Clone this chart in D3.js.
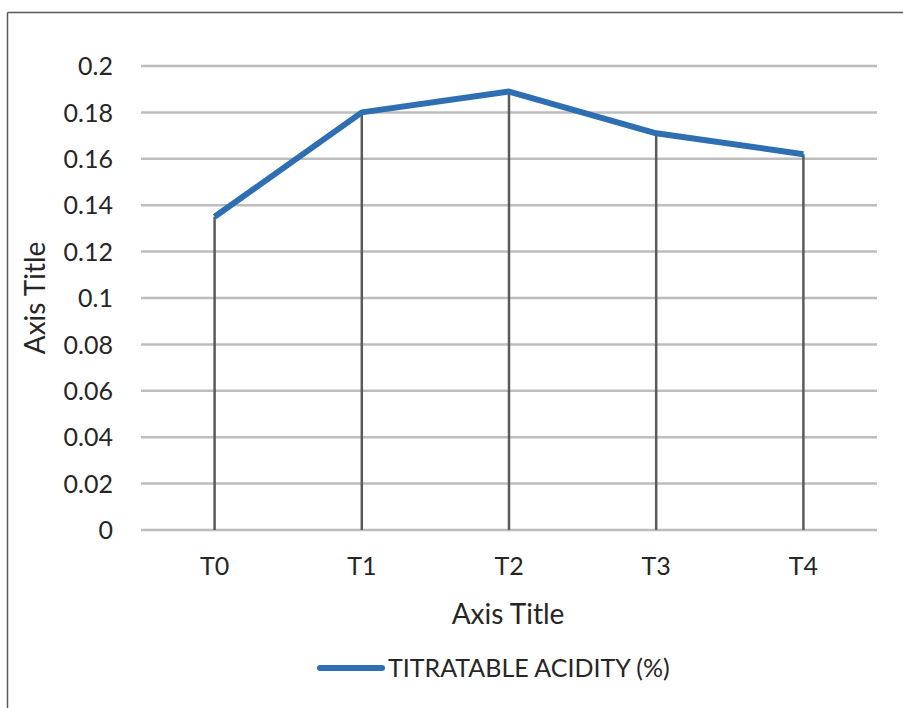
<!DOCTYPE html>
<html>
<head>
<meta charset="utf-8">
<script src="https://cdn.jsdelivr.net/npm/d3@7"></script>
<style>
  html, body { margin: 0; padding: 0; background: #fff; }
  svg { display: block; }
  text { font-family: Lato, "Open Sans", sans-serif; fill: #262626; }
</style>
</head>
<body>
<svg id="chart" width="903" height="708"></svg>
<script>
const categories = ["T0", "T1", "T2", "T3", "T4"];
const acidity = [0.135, 0.180, 0.189, 0.171, 0.162];
const yTicks = [0, 0.02, 0.04, 0.06, 0.08, 0.1, 0.12, 0.14, 0.16, 0.18, 0.2];
const seriesName = "TITRATABLE ACIDITY (%)";
const xTitle = "Axis Title";
const yTitle = "Axis Title";

const svg = d3.select("#chart");

// outer border (left and top only visible)
svg.append("line").attr("x1", 7.5).attr("x2", 903).attr("y1", 12.5).attr("y2", 12.5)
  .attr("stroke", "#595959").attr("stroke-width", 1.5);
svg.append("line").attr("x1", 7.5).attr("x2", 7.5).attr("y1", 12.5).attr("y2", 708)
  .attr("stroke", "#595959").attr("stroke-width", 1.5);

const x = d3.scaleBand().domain(categories).range([141, 877]).paddingInner(0).paddingOuter(0);
const y = d3.scaleLinear().domain([0, 0.2]).range([530, 66]);
const cx = d => x(d) + x.bandwidth() / 2;

// gridlines
svg.append("g").selectAll("line").data(yTicks).join("line")
  .attr("x1", 141).attr("x2", 877)
  .attr("y1", d => y(d)).attr("y2", d => y(d))
  .attr("stroke", "#bdbdbd").attr("stroke-width", 2.5);

// y tick labels
const yAxis = d3.axisLeft(y).tickValues(yTicks).tickSize(0).tickPadding(0).tickFormat(d => String(+d.toFixed(2)));
const gy = svg.append("g").attr("transform", "translate(113,0)").call(yAxis);
gy.select(".domain").remove();
gy.selectAll("text").attr("font-size", 25).attr("font-family", "Lato").attr("fill", "#262626").attr("dy", "0.35em");

// x tick labels
const xAxis = d3.axisBottom(x).tickSize(0).tickPadding(0);
const gx = svg.append("g").attr("transform", "translate(0,566)").call(xAxis);
gx.select(".domain").remove();
gx.selectAll("text").attr("font-size", 25).attr("font-family", "Lato").attr("fill", "#262626").attr("dy", "0.35em");

// drop lines
svg.append("g").selectAll("line").data(categories).join("line")
  .attr("x1", d => cx(d)).attr("x2", d => cx(d))
  .attr("y1", (d, i) => y(acidity[i])).attr("y2", y(0))
  .attr("stroke", "#5a5a5a").attr("stroke-width", 2.5);

// series line
const line = d3.line().x((d, i) => cx(categories[i])).y(d => y(d));
svg.append("path").datum(acidity).attr("d", line)
  .attr("fill", "none").attr("stroke", "#2e6fb2").attr("stroke-width", 6)
  .attr("stroke-linejoin", "round");

// axis titles
svg.append("text").attr("x", 508).attr("y", 614).attr("dy", "0.35em")
  .attr("text-anchor", "middle").attr("font-size", 28).text(xTitle);
svg.append("text").attr("transform", "translate(35,298) rotate(-90)").attr("dy", "0.35em")
  .attr("text-anchor", "middle").attr("font-size", 28).text(yTitle);

// legend
svg.append("line").attr("x1", 320).attr("x2", 382).attr("y1", 668).attr("y2", 668)
  .attr("stroke", "#2e6fb2").attr("stroke-width", 6).attr("stroke-linecap", "round");
svg.append("text").attr("x", 388).attr("y", 668).attr("dy", "0.35em")
  .attr("font-size", 25).text(seriesName);
</script>
</body>
</html>
